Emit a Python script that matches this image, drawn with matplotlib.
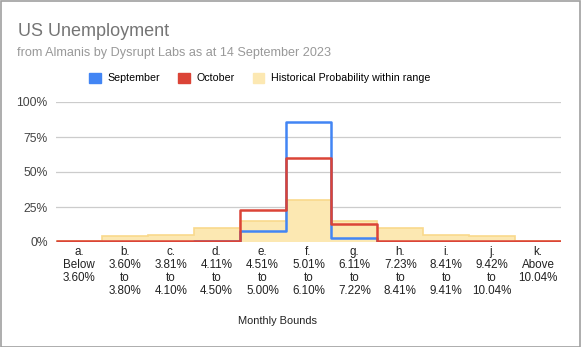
import numpy as np
import matplotlib
matplotlib.use('Agg')
import matplotlib.pyplot as plt
from matplotlib.patches import Patch, Rectangle

plt.rcParams['font.family'] = ['Liberation Sans', 'DejaVu Sans']

# data (percent)
bounds = ['a.\nBelow\n3.60%', 'b.\n3.60%\nto\n3.80%', 'c.\n3.81%\nto\n4.10%',
          'd.\n4.11%\nto\n4.50%', 'e.\n4.51%\nto\n5.00%', 'f.\n5.01%\nto\n6.10%',
          'g.\n6.11%\nto\n7.22%', 'h.\n7.23%\nto\n8.41%', 'i.\n8.41%\nto\n9.41%',
          'j.\n9.42%\nto\n10.04%', 'k.\nAbove\n10.04%']
september = [0.2, 0.2, 0.2, 0.5, 8, 86, 3, 0.2, 0.2, 0.2, 0.2]
october = [0.5, 0.5, 0.5, 1, 23, 60, 13, 0.5, 0.5, 0.5, 0.5]
historical = [0.5, 4, 5, 10, 15, 30, 15, 10, 5, 4, 0.5]

blue = '#4285f4'
red = '#db4437'
yellow_fill = '#fce8b2'
yellow_edge = '#f9d98c'

W, H = 581, 347
fig = plt.figure(figsize=(W / 100, H / 100), dpi=100)
ax = fig.add_axes([56 / W, 1 - 242 / H, (561 - 56) / W, (242 - 102) / H])

edges = np.arange(len(bounds) + 1)
centers = edges[:-1] + 0.5

ax.stairs(np.array(historical) / 100, edges, fill=True, color=yellow_fill, zorder=2)
ax.stairs(np.array(historical) / 100, edges, baseline=None, color=yellow_edge, lw=1.2, zorder=2)
s1 = ax.stairs(np.array(september) / 100, edges, baseline=None, color=blue, lw=1.8, zorder=3)
s2 = ax.stairs(np.array(october) / 100, edges, baseline=None, color=red, lw=1.8, zorder=4)
for s in (s1, s2):
    s.set_joinstyle('round')

ax.set_xlim(0, len(bounds))
ax.set_ylim(0, 1)
ax.set_yticks([0, 0.25, 0.5, 0.75, 1.0])
ax.set_yticklabels(['0%', '25%', '50%', '75%', '100%'], fontsize=8.7, color='#444444')
ax.set_xticks(centers)
ax.set_xticklabels(bounds, fontsize=8.4, color='#222222', linespacing=1.12)
ax.tick_params(length=0, pad=3)
ax.tick_params(axis='y', pad=6)
ax.grid(axis='y', color='#cccccc', lw=0.9, zorder=0)
ax.set_axisbelow(True)
for sp in ax.spines.values():
    sp.set_visible(False)
ax.axhline(0, color='#333333', lw=1, zorder=1.5)

fig.text(18 / W, 1 - 32 / H, 'US Unemployment', fontsize=13, color='#757575', va='center')
fig.text(17 / W, 1 - 53 / H, 'from Almanis by Dysrupt Labs as at 14 September 2023',
         fontsize=9.1, color='#999999', va='center')
fig.text(277 / W, 1 - 321 / H, 'Monthly Bounds', fontsize=7.9, color='#222222',
         ha='center', va='center')

handles = [Patch(color=blue), Patch(color=red), Patch(color=yellow_fill)]
fig.legend(handles, ['September', 'October', 'Historical Probability within range'],
           loc='center', bbox_to_anchor=(260 / W, 1 - 78 / H), ncol=3, frameon=False,
           fontsize=7.7, handlelength=1.05, handleheight=1.05, handletextpad=0.65,
           columnspacing=1.7, borderaxespad=0)

fig.patches.append(Rectangle((0.5 / W, 0.5 / H), 1 - 1.5 / W, 1 - 1.5 / H,
                             transform=fig.transFigure, fill=False,
                             edgecolor='#a0a0a0', lw=1.2))

fig.savefig('out.png', dpi=100)
